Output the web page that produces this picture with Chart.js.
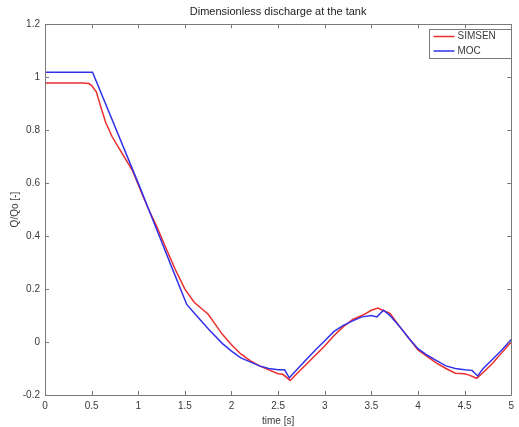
<!DOCTYPE html>
<html>
<head>
<meta charset="utf-8">
<script src="https://cdn.jsdelivr.net/npm/chart.js@4/dist/chart.umd.min.js"></script>
<style>
html,body{margin:0;padding:0;background:#fff;}
#wrap{width:519px;height:427px;position:relative;}
</style>
</head>
<body>
<div id="wrap"><canvas id="c" width="519" height="427"></canvas></div>
<script>
// ---- data ----
const titleText = 'Dimensionless discharge at the tank';
const xTitle = 'time [s]';
const yTitle = 'Q/Qo [-]';

const xTicks = [0, 0.5, 1, 1.5, 2, 2.5, 3, 3.5, 4, 4.5, 5];
const xTickLabels = ['0', '0.5', '1', '1.5', '2', '2.5', '3', '3.5', '4', '4.5', '5'];
const yTicks = [-0.2, 0, 0.2, 0.4, 0.6, 0.8, 1, 1.2];
const yTickLabels = ['-0.2', '0', '0.2', '0.4', '0.6', '0.8', '1', '1.2'];

const simsenLabel = 'SIMSEN';
const simsenTime = [0, 0.4, 0.47, 0.5, 0.55, 0.6, 0.65, 0.72, 0.83, 0.94, 1.04, 1.1, 1.2, 1.3, 1.4, 1.5, 1.6, 1.7, 1.75, 1.8, 1.9, 2.0, 2.1, 2.2, 2.3, 2.4, 2.5, 2.55, 2.63, 2.7, 2.8, 2.9, 3.0, 3.1, 3.2, 3.3, 3.4, 3.5, 3.57, 3.62, 3.7, 3.8, 3.9, 4.0, 4.1, 4.2, 4.3, 4.4, 4.5, 4.55, 4.63, 4.7, 4.8, 4.9, 5.0];
const simsenQ = [0.978, 0.978, 0.976, 0.968, 0.945, 0.886, 0.83, 0.775, 0.71, 0.646, 0.56, 0.51, 0.435, 0.352, 0.272, 0.2, 0.15, 0.12, 0.105, 0.08, 0.03, -0.01, -0.045, -0.07, -0.09, -0.105, -0.12, -0.122, -0.145, -0.12, -0.085, -0.05, -0.015, 0.025, 0.058, 0.085, 0.1, 0.12, 0.128, 0.12, 0.108, 0.06, 0.015, -0.03, -0.055, -0.08, -0.1, -0.118, -0.12, -0.125, -0.137, -0.115, -0.08, -0.04, 0.0];

const mocLabel = 'MOC';
const mocTime = [0, 0.5, 0.51, 1.0, 1.2, 1.4, 1.52, 1.6, 1.75, 1.9, 2.0, 2.1, 2.2, 2.3, 2.4, 2.5, 2.57, 2.62, 2.7, 2.8, 2.9, 3.0, 3.1, 3.2, 3.3, 3.4, 3.5, 3.56, 3.63, 3.7, 3.8, 3.9, 4.0, 4.1, 4.2, 4.3, 4.4, 4.5, 4.58, 4.64, 4.7, 4.8, 4.9, 5.0];
const mocQ = [1.019, 1.019, 1.019, 0.6, 0.423, 0.247, 0.142, 0.11, 0.05, -0.005, -0.034, -0.06, -0.075, -0.09, -0.1, -0.105, -0.105, -0.135, -0.105, -0.067, -0.03, 0.005, 0.04, 0.063, 0.08, 0.095, 0.1, 0.095, 0.12, 0.1, 0.06, 0.015, -0.025, -0.05, -0.07, -0.09, -0.1, -0.105, -0.107, -0.128, -0.1, -0.065, -0.03, 0.01];

// ---- chart ----
const toPts = (t, v) => t.map((x, i) => ({x: x, y: v[i]}));
const FONT = "'Liberation Sans', Arial, sans-serif";
const AXIS_COLOR = '#7a7a7a';
const TEXT_COLOR = '#3a3a3a';

const matlabAxes = {
  id: 'matlabAxes',
  afterDatasetsDraw(chart) {
    const {ctx, chartArea: a, scales} = chart;
    ctx.save();
    ctx.strokeStyle = AXIS_COLOR;
    ctx.lineWidth = 1;
    ctx.beginPath();
    ctx.rect(Math.round(a.left) + 0.5, Math.round(a.top) + 0.5, Math.round(a.right - a.left), Math.round(a.bottom - a.top));
    ctx.stroke();
    const tl = 4;
    ctx.beginPath();
    xTicks.forEach(v => {
      const px = Math.round(scales.x.getPixelForValue(v)) + 0.5;
      ctx.moveTo(px, a.bottom); ctx.lineTo(px, a.bottom - tl);
      ctx.moveTo(px, a.top); ctx.lineTo(px, a.top + tl);
    });
    yTicks.forEach(v => {
      const py = Math.round(scales.y.getPixelForValue(v)) + 0.5;
      ctx.moveTo(a.left, py); ctx.lineTo(a.left + tl, py);
      ctx.moveTo(a.right, py); ctx.lineTo(a.right - tl, py);
    });
    ctx.stroke();

    // legend box (inside, top-right)
    const bx = 429.5, by = 29.5, bw = 82, bh = 29;
    ctx.fillStyle = '#fff';
    ctx.fillRect(bx, by, bw, bh);
    ctx.strokeStyle = AXIS_COLOR;
    ctx.strokeRect(bx, by, bw, bh);
    ctx.font = '10px ' + FONT;
    ctx.textBaseline = 'middle';
    chart.data.datasets.forEach((ds, i) => {
      const y = by + 7 + i * 14.5;
      ctx.strokeStyle = ds.borderColor;
      ctx.lineWidth = 1.5;
      ctx.beginPath();
      ctx.moveTo(bx + 4, y); ctx.lineTo(bx + 25, y);
      ctx.stroke();
      ctx.fillStyle = TEXT_COLOR;
      ctx.fillText(ds.label, bx + 28, y);
    });
    ctx.restore();
  }
};

new Chart(document.getElementById('c'), {
  type: 'line',
  data: {
    datasets: [
      {label: simsenLabel, data: toPts(simsenTime, simsenQ), borderColor: 'rgb(235,45,45)', borderWidth: 1.5, pointRadius: 0, tension: 0, order: 2},
      {label: mocLabel, data: toPts(mocTime, mocQ), borderColor: 'rgb(50,50,235)', borderWidth: 1.5, pointRadius: 0, tension: 0, order: 1}
    ]
  },
  options: {
    responsive: false,
    animation: false,
    events: [],
    layout: {padding: {left: 0, right: 3, top: 0, bottom: 0}},
    plugins: {
      legend: {display: false},
      tooltip: {enabled: false},
      title: {
        display: true, text: titleText, color: '#222', fullSize: false,
        font: {family: FONT, size: 11, weight: 'normal'},
        padding: {top: 5, bottom: 6}
      }
    },
    scales: {
      x: {
        type: 'linear', min: 0, max: 5,
        afterBuildTicks: s => { s.ticks = xTicks.map(v => ({value: v})); },
        afterFit: s => { s.height = 32; },
        grid: {display: false, drawTicks: false},
        border: {display: false},
        ticks: {
          padding: 5, color: TEXT_COLOR, maxRotation: 0, autoSkip: false,
          font: {family: FONT, size: 10},
          callback: (v, i) => xTickLabels[i]
        },
        title: {display: true, text: xTitle, color: TEXT_COLOR, font: {family: FONT, size: 10}, padding: {top: 1, bottom: 0}}
      },
      y: {
        type: 'linear', min: -0.2, max: 1.2,
        afterBuildTicks: s => { s.ticks = yTicks.map(v => ({value: v})); },
        afterFit: s => { s.width = 45; },
        grid: {display: false, drawTicks: false},
        border: {display: false},
        ticks: {
          padding: 5, color: TEXT_COLOR, autoSkip: false,
          font: {family: FONT, size: 10},
          callback: (v, i) => yTickLabels[i]
        },
        title: {display: true, text: yTitle, color: TEXT_COLOR, font: {family: FONT, size: 10}, padding: {top: 9, bottom: 0}}
      }
    }
  },
  plugins: [matlabAxes]
});
</script>
</body>
</html>
